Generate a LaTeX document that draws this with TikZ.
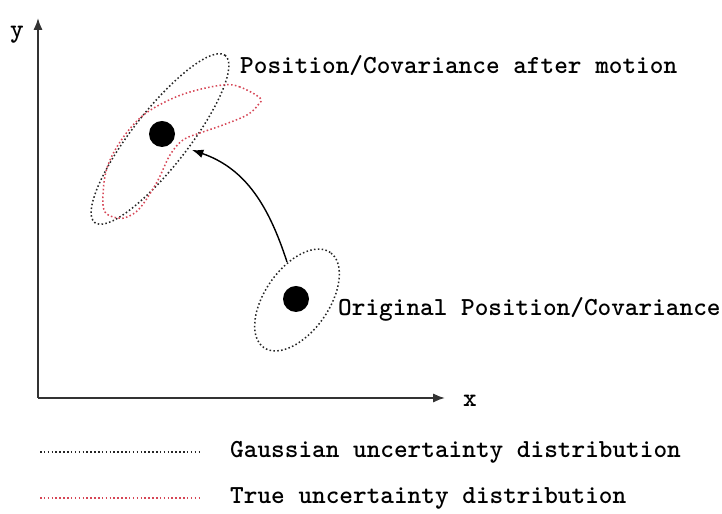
\documentclass[tikz,border=0pt]{standalone}
\usepackage{fontspec}
\usepackage{tikz}
\usetikzlibrary{arrows.meta,positioning}
\definecolor{truered}{RGB}{214,70,86}
\tikzset{
lbl/.style={font=\ttfamily\bfseries\fontsize{22.2}{26}\selectfont,inner sep=0pt,anchor=west},
dot/.style={circle,fill=black,minimum size=.78cm,inner sep=0pt},
gauss/.style={dotted,line width=1.3pt,black!85},
truedist/.style={dotted,line width=1.3pt,truered},
axis/.style={-{Latex[length=3.6mm,width=2.8mm]},line width=1.6pt,black!80},
arrow/.style={-{Latex[length=3.4mm,width=2.6mm]},line width=1.2pt}
}
\begin{document}
\begin{tikzpicture}[x=.03cm,y=.03cm]
\useasboundingbox (0,0) rectangle (722,514);
% axes
\coordinate (o) at (38,116);
\coordinate (ytip) at (38,496);
\coordinate (xtip) at (445,116);
\draw[axis](o)--(ytip);
\draw[axis](o)--(xtip);
\node[lbl] (ylab) at (10,479) {y};
\node[lbl] (xlab) at (463,113) {x};
% distributions
\draw[gauss] (297,214) ellipse[x radius=58,y radius=32,rotate=55];
\draw[gauss] (160,375) ellipse[x radius=106,y radius=28,rotate=52];
\draw[truedist] plot[smooth cycle,tension=.6] coordinates {(260,416) (240,427) (223,429) (190,422) (163,411) (140,396) (120,372) (107,346) (103,319) (105,302) (117,296) (127,297) (140,306) (157,332) (170,359) (183,374) (200,381) (223,389) (247,399) (258,409)};
\node[dot] (start) at (296,215) {};
\node[dot] (moved) at (162,380) {};
\coordinate (from) at (287,252);
\coordinate (to) at (192,364);
\draw[arrow](from) to[out=108,in=-19] (to);
\node[lbl] (after) at (240,448) {Position/Covariance after motion};
\node[lbl] (orig) at (338,205) {Original Position/Covariance};
% legend
\coordinate (g1) at (40,62);
\coordinate (g2) at (200,62);
\coordinate (t1) at (40,16);
\coordinate (t2) at (200,16);
\draw[gauss](g1)--(g2);
\draw[truedist](t1)--(t2);
\node[lbl] (glab) at (230,62) {Gaussian uncertainty distribution};
\node[lbl] (tlab) at (230,16) {True uncertainty distribution};
\end{tikzpicture}
\end{document}
